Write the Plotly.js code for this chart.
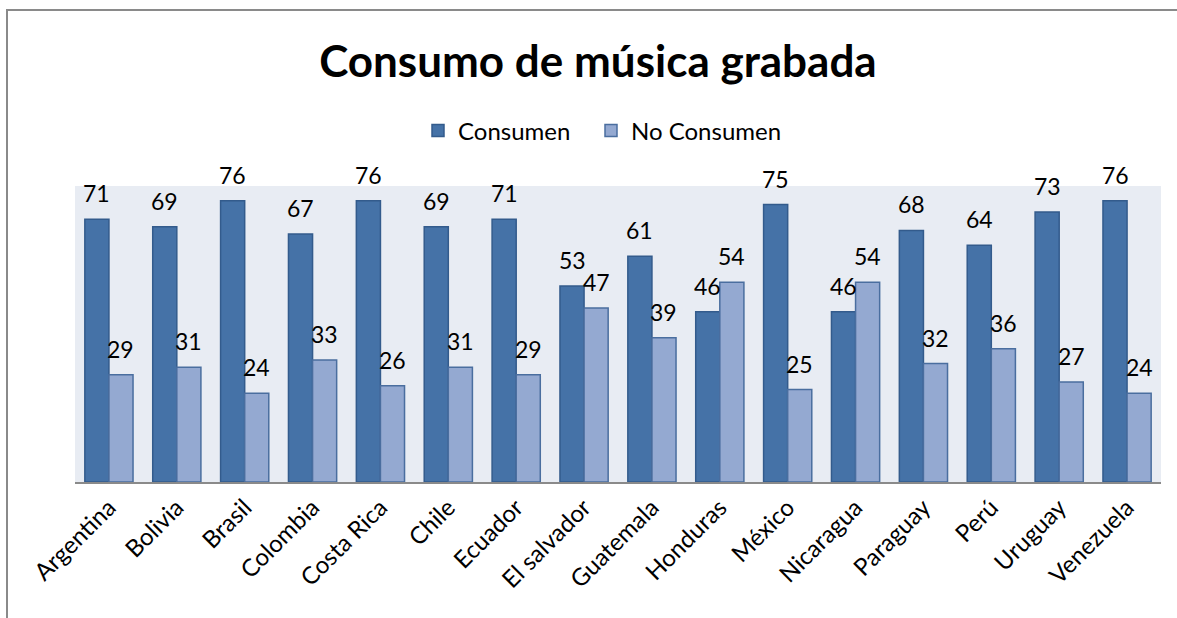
<!DOCTYPE html>
<html>
<head>
<meta charset="utf-8">
<script src="https://cdn.plot.ly/plotly-3.0.1.min.js"></script>
<style>
html,body{margin:0;padding:0;background:#fff;overflow:hidden;width:1177px;height:618px;}
#chart{width:1177px;height:618px;}
#ftop{position:absolute;left:6px;top:9px;width:1171px;height:2px;background:#8a8a8a;pointer-events:none;}
#fleft{position:absolute;left:6px;top:9px;width:2px;height:609px;background:#8a8a8a;pointer-events:none;}
</style>
</head>
<body>
<div id="chart"></div>
<div id="ftop"></div>
<div id="fleft"></div>
<script>
const categories = ["Argentina","Bolivia","Brasil","Colombia","Costa Rica","Chile","Ecuador","El salvador","Guatemala","Honduras","México","Nicaragua","Paraguay","Perú","Uruguay","Venezuela"];
const consumen = [71,69,76,67,76,69,71,53,61,46,75,46,68,64,73,76];
const noConsumen = [29,31,24,33,26,31,29,47,39,54,25,54,32,36,27,24];
const seriesNames = ["Consumen","No Consumen"];
const titleText = "Consumo de música grabada";

const FONT = "Lato, 'Open Sans', sans-serif";

const traces = [
  {type:"bar", name:seriesNames[0], x:categories, y:consumen, legend:"legend",
   marker:{color:"#4572A7", line:{color:"#335B8C", width:1.5}}, hoverinfo:"none"},
  {type:"bar", name:seriesNames[1], x:categories, y:noConsumen, legend:"legend2",
   marker:{color:"#94A9D1", line:{color:"#4A6E9F", width:1.5}}, hoverinfo:"none"}
];

const annotations = [];
categories.forEach((c,i)=>{
  annotations.push({x:c, y:consumen[i], xref:"x", yref:"y", text:String(consumen[i]),
    showarrow:false, xshift:-12, yshift:10, yanchor:"bottom",
    font:{family:FONT, size:23, color:"#000"}});
  annotations.push({x:c, y:noConsumen[i], xref:"x", yref:"y", text:String(noConsumen[i]),
    showarrow:false, xshift:12, yshift:10, yanchor:"bottom",
    font:{family:FONT, size:23, color:"#000"}});
});

const legendStyle = {orientation:"h", xanchor:"left", y:1.186, yanchor:"middle",
  font:{family:FONT, size:24, color:"#000"}, bgcolor:"rgba(0,0,0,0)", itemwidth:30};

const layout = {
  width:1177, height:618,
  margin:{l:75, r:16, t:186, b:136},
  paper_bgcolor:"#ffffff",
  plot_bgcolor:"#E8ECF3",
  barmode:"group",
  bargap:0.29,
  bargroupgap:0,
  title:{text:"<b>"+titleText+"</b>", font:{family:FONT, size:44, color:"#000"},
         x:0.508, xanchor:"center", y:0.9, yref:"container", yanchor:"middle"},
  showlegend:true,
  legend:Object.assign({}, legendStyle, {x:(418-75)/1086}),
  legend2:Object.assign({}, legendStyle, {x:(591-75)/1086}),
  xaxis:{type:"category", tickangle:-45, ticks:"", showline:true, linecolor:"#8a8a8a", linewidth:2,
         tickfont:{family:FONT, size:24, color:"#000"}, showgrid:false, zeroline:false},
  yaxis:{range:[0,80], showticklabels:false, showgrid:false, zeroline:false, showline:false, ticks:""},
  annotations:annotations
};

Plotly.newPlot("chart", traces, layout, {displayModeBar:false, staticPlot:true});
</script>
</body>
</html>
